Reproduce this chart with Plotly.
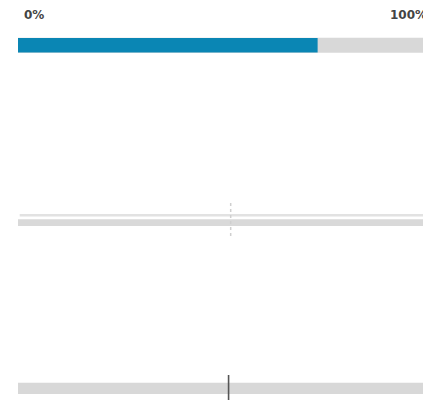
import plotly.graph_objects as go

# ---- data ----
scale_labels = ["0%", "100%"]
scale_min = 0
scale_max = 100
progress_value = 71
track_value = 100
target_dashed = 50.4
target_solid = 49.9

# ---- layout helpers (pixel-based y axis) ----
W, H = 423, 400
px_per_unit = 4.22
x0_px = 18
xmin = -x0_px / px_per_unit
xmax = (W - x0_px) / px_per_unit

fig = go.Figure()

# Row 1: gray track + blue progress
fig.add_trace(go.Bar(x=[track_value], y=[45.3], base=[scale_min], width=[15],
                     orientation="h", marker=dict(color="#d8d8d8", line=dict(width=0)),
                     hoverinfo="skip"))
fig.add_trace(go.Bar(x=[progress_value], y=[45.3], base=[scale_min], width=[14.5],
                     orientation="h", marker=dict(color="#0a86b4", line=dict(width=0)),
                     hoverinfo="skip"))

# Row 2: thin light line + thicker gray track
fig.add_trace(go.Bar(x=[track_value], y=[215.3], base=[0.4], width=[2.6],
                     orientation="h", marker=dict(color="#e2e2e2", line=dict(width=0)),
                     hoverinfo="skip"))
fig.add_trace(go.Bar(x=[track_value], y=[222.6], base=[scale_min], width=[6.8],
                     orientation="h", marker=dict(color="#d9d9d9", line=dict(width=0)),
                     hoverinfo="skip"))
fig.add_trace(go.Scatter(x=[target_dashed, target_dashed], y=[203, 237], mode="lines",
                         line=dict(color="#cfcfcf", width=1.5, dash="dot"),
                         hoverinfo="skip"))

# Row 3: gray track + dark marker
fig.add_trace(go.Bar(x=[track_value], y=[388.3], base=[scale_min], width=[11.3],
                     orientation="h", marker=dict(color="#d8d8d8", line=dict(width=0)),
                     hoverinfo="skip"))
fig.add_trace(go.Scatter(x=[target_solid, target_solid], y=[375, 400], mode="lines",
                         line=dict(color="#555555", width=1.6),
                         hoverinfo="skip"))

fig.update_layout(
    width=W, height=H,
    margin=dict(l=0, r=0, t=0, b=0),
    paper_bgcolor="white", plot_bgcolor="white",
    showlegend=False, barmode="overlay",
    xaxis=dict(range=[xmin, xmax], visible=False, fixedrange=True),
    yaxis=dict(range=[H, 0], visible=False, fixedrange=True),
    annotations=[
        dict(x=(22 - x0_px) / px_per_unit, y=14.5, xref="x", yref="y",
             text="<b>" + scale_labels[0] + "</b>",
             showarrow=False, xanchor="left", yanchor="middle",
             font=dict(family="DejaVu Sans", size=12, color="#444444")),
        dict(x=(388 - x0_px) / px_per_unit, y=14.5, xref="x", yref="y",
             text="<b>" + scale_labels[1] + "</b>",
             showarrow=False, xanchor="left", yanchor="middle",
             font=dict(family="DejaVu Sans", size=12, color="#444444")),
    ],
)

fig.write_html("out.html", config={"displayModeBar": False},
               post_script="document.body.style.margin='0';document.body.style.overflow='hidden';")
